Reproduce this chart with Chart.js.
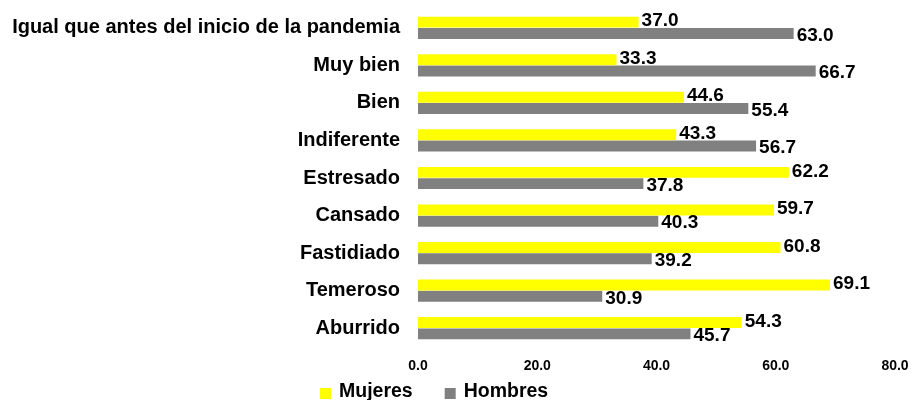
<!DOCTYPE html>
<html>
<head>
<meta charset="utf-8">
<script src="https://cdn.jsdelivr.net/npm/chart.js@4/dist/chart.umd.min.js"></script>
<style>
  body { margin: 0; background: #fff; }
  #wrap { width: 912px; height: 400px; }
</style>
</head>
<body>
<div id="wrap"><canvas id="chart" width="912" height="400"></canvas></div>
<script>
"use strict";

// Categorías y valores (%)
var categorias = [
  "Igual que antes del inicio de la pandemia",
  "Muy bien",
  "Bien",
  "Indiferente",
  "Estresado",
  "Cansado",
  "Fastidiado",
  "Temeroso",
  "Aburrido"
];
var mujeres = [37.0, 33.3, 44.6, 43.3, 62.2, 59.7, 60.8, 69.1, 54.3];
var hombres = [63.0, 66.7, 55.4, 56.7, 37.8, 40.3, 39.2, 30.9, 45.7];
var ticksX = [0, 20, 40, 60, 80];

var FONT = "'Liberation Sans', Arial, sans-serif";

// Etiquetas de valor al final de cada barra
var etiquetas = {
  id: 'etiquetas',
  afterDatasetsDraw: function(chart) {
    var ctx = chart.ctx;
    ctx.save();
    ctx.font = "bold 19px " + FONT;
    ctx.fillStyle = '#000';
    ctx.textAlign = 'left';
    ctx.textBaseline = 'middle';
    chart.data.datasets.forEach(function(ds, i) {
      var meta = chart.getDatasetMeta(i);
      var dy = i === 0 ? -1 : 2;
      meta.data.forEach(function(bar, j) {
        ctx.fillText(ds.data[j].toFixed(1), bar.x + 3, bar.y + dy);
      });
    });
    ctx.restore();
  }
};

// Leyenda abajo a la izquierda
var leyenda = {
  id: 'leyenda',
  afterDraw: function(chart) {
    var ctx = chart.ctx;
    ctx.save();
    ctx.font = "bold 19.5px " + FONT;
    ctx.textBaseline = 'middle';
    var x = 320;
    var y = 392;
    chart.data.datasets.forEach(function(ds) {
      ctx.fillStyle = ds.backgroundColor;
      ctx.fillRect(x, y - 4, 11, 11);
      ctx.fillStyle = '#000';
      ctx.fillText(ds.label, x + 19, y);
      x += 19 + ctx.measureText(ds.label).width + 32;
    });
    ctx.restore();
  }
};

new Chart(document.getElementById('chart'), {
  type: 'bar',
  data: {
    labels: categorias,
    datasets: [{
      label: 'Mujeres',
      data: mujeres,
      backgroundColor: '#FFFF00',
      barPercentage: 0.97,
      categoryPercentage: 0.6
    }, {
      label: 'Hombres',
      data: hombres,
      backgroundColor: '#808080',
      barPercentage: 0.97,
      categoryPercentage: 0.6
    }]
  },
  options: {
    indexAxis: 'y',
    responsive: false,
    animation: false,
    layout: {
      padding: { top: 9, right: 17, bottom: 0, left: 0 }
    },
    scales: {
      x: {
        min: 0,
        max: 80,
        grid: { display: false },
        border: { display: false },
        afterBuildTicks: function(scale) {
          scale.ticks = ticksX.map(function(v) { return { value: v }; });
        },
        afterFit: function(scale) {
          scale.height = 53;
          scale.paddingLeft = 0;
          scale.paddingRight = 0;
        },
        ticks: {
          padding: 3,
          color: '#000',
          font: { family: FONT, size: 14, weight: 'bold' },
          maxRotation: 0,
          callback: function(v) { return Number(v).toFixed(1); }
        }
      },
      y: {
        grid: { display: false },
        border: { display: false },
        afterFit: function(scale) {
          scale.width = 418;
          scale.paddingTop = 0;
          scale.paddingBottom = 0;
        },
        ticks: {
          padding: 10,
          color: '#000',
          font: { family: FONT, size: 20, weight: 'bold' }
        }
      }
    },
    plugins: {
      legend: { display: false },
      tooltip: { enabled: false }
    }
  },
  plugins: [etiquetas, leyenda]
});
</script>
</body>
</html>
